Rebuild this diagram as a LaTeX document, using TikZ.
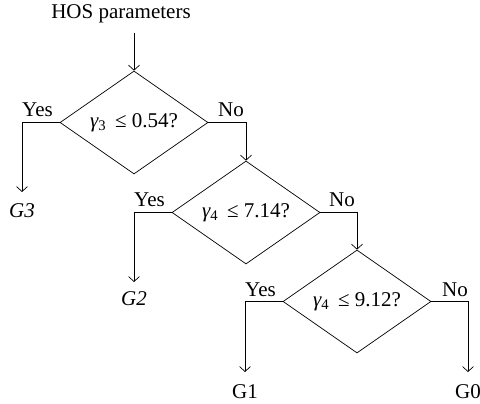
\documentclass[tikz,border=0pt]{standalone}
\usepackage{fontspec}
\setmainfont{Liberation Serif}
\usetikzlibrary{shapes.geometric,arrows.meta}
\begin{document}
\begin{tikzpicture}[x=1pt,y=-1pt,
  font=\fontsize{21}{24}\selectfont,
  dec/.style={draw,shape=diamond,aspect=1.437,minimum width=148pt,minimum height=103pt,inner sep=0pt,line width=0.7pt},
  conn/.style={line width=0.7pt,-{Straight Barb[length=5pt,width=11pt,line width=0.7pt]}},
  lbl/.style={inner sep=0pt}]
\useasboundingbox (0,0) rectangle (480,404);
\node[lbl] (hos) at (121,14) {HOS parameters};
\coordinate (hosend) at (134,33);
\node[dec] (d1) at (134,122.5) {{\itshape γ}\textsubscript{3} \,≤ 0.54?};
\node[dec] (d2) at (246,212.5) {{\itshape γ}\textsubscript{4} \,≤ 7.14?};
\node[dec] (d3) at (357,301.5) {{\itshape γ}\textsubscript{4} \,≤ 9.12?};
\node[lbl] (g3) at (22,211) {\itshape G3};
\node[lbl] (g2) at (134,299) {\itshape G2};
\node[lbl] (g1) at (245,392) {G1};
\node[lbl] (g0) at (468,392) {G0};
\coordinate (c1) at (22,122.5);
\coordinate (c2) at (134,212.5);
\coordinate (c3) at (245,301.5);
\coordinate (c4) at (468,301.5);
\draw[conn] (hosend) -- (d1.north);
\draw[conn] (d1.west) -- (c1) -- ++(0,69.5);
\draw[conn] (d1.east) -| (d2.north);
\draw[conn] (d2.west) -- (c2) -- ++(0,69.5);
\draw[conn] (d2.east) -| (d3.north);
\draw[conn] (d3.west) -- (c3) -- ++(0,70.5);
\draw[conn] (d3.east) -- (c4) -- ++(0,70.5);
\node[lbl,anchor=base west] (y1) at ([yshift=5.5pt]c1) {Yes};
\node[lbl,anchor=base east] (n1) at (244,117) {No};
\node[lbl,anchor=base west] (y2) at ([yshift=5.5pt]c2) {Yes};
\node[lbl,anchor=base east] (n2) at (355,207) {No};
\node[lbl,anchor=base west] (y3) at ([yshift=5.5pt]c3) {Yes};
\node[lbl,anchor=base east] (n3) at ([yshift=5.5pt]c4) {No};
\end{tikzpicture}
\end{document}
